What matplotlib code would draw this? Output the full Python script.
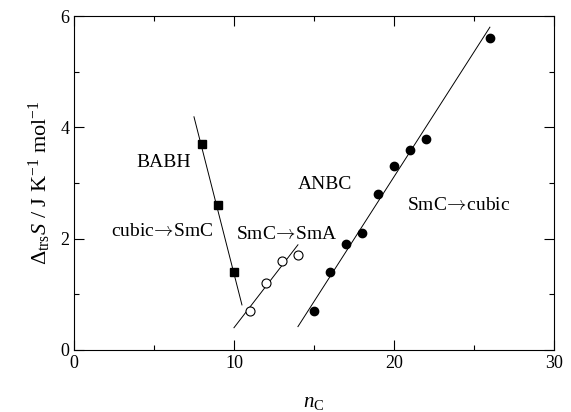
import matplotlib.pyplot as plt
from matplotlib.ticker import MultipleLocator

plt.rcParams['font.family'] = ['Liberation Serif', 'DejaVu Serif']
plt.rcParams['mathtext.fontset'] = 'custom'
plt.rcParams['mathtext.rm'] = 'Liberation Serif'
plt.rcParams['mathtext.it'] = 'Liberation Serif:italic'

# BABH (cubic -> SmC)
babh_n = [8, 9, 10]
babh_s = [3.7, 2.6, 1.4]
babh_fit_n = [7.5, 10.5]
babh_fit_s = [4.19, 0.81]

# SmC -> SmA
sma_n = [11, 12, 13, 14]
sma_s = [0.7, 1.2, 1.6, 1.7]
sma_fit_n = [10.0, 14.0]
sma_fit_s = [0.40, 1.89]

# ANBC (SmC -> cubic)
anbc_n = [15, 16, 17, 18, 19, 20, 21, 22, 26]
anbc_s = [0.7, 1.4, 1.9, 2.1, 2.8, 3.3, 3.6, 3.8, 5.6]
anbc_fit_n = [14.0, 26.0]
anbc_fit_s = [0.42, 5.8]

fig = plt.figure(figsize=(5.71, 4.12), dpi=100)
ax = fig.add_axes([0.1296, 0.1505, 0.8404, 0.8105])

ax.plot(babh_fit_n, babh_fit_s, color='black', lw=0.7)
ax.plot(sma_fit_n, sma_fit_s, color='black', lw=0.7)
ax.plot(anbc_fit_n, anbc_fit_s, color='black', lw=0.7)

ax.plot(babh_n, babh_s, 's', color='black', ms=6)
ax.plot(sma_n, sma_s, 'o', mfc='white', mec='black', mew=0.8, ms=6.5)
ax.plot(anbc_n, anbc_s, 'o', color='black', ms=6)

fs = 14
arrow = r'$\!\rightarrow\!$'
kw = dict(fontsize=fs, ha='center', va='center', math_fontfamily='cm')
ax.text(5.6, 3.36, 'BABH', fontsize=fs, ha='center', va='center')
ax.text(5.5, 2.13, 'cubic' + arrow + 'SmC', **kw)
ax.text(13.3, 2.08, 'SmC' + arrow + 'SmA', **kw)
ax.text(15.7, 2.97, 'ANBC', fontsize=fs, ha='center', va='center')
ax.text(24.06, 2.6, 'SmC' + arrow + 'cubic', **kw)

ax.set_xlim(0, 30)
ax.set_ylim(0, 6)
ax.xaxis.set_major_locator(MultipleLocator(10))
ax.xaxis.set_minor_locator(MultipleLocator(5))
ax.yaxis.set_major_locator(MultipleLocator(2))
ax.yaxis.set_minor_locator(MultipleLocator(1))
ax.tick_params(which='both', direction='in', top=True, right=True, labelsize=13, width=0.8)
ax.tick_params(which='major', length=7)
ax.tick_params(which='minor', length=3.6)
for sp in ax.spines.values():
    sp.set_linewidth(0.8)

ax.set_xlabel(r'$n_{\rm C}$', fontsize=15, labelpad=15)
ax.set_ylabel(r'$\Delta_{\rm trs}S$ / J K$^{-1}$ mol$^{-1}$', fontsize=16, labelpad=5)

fig.savefig('out.png', dpi=100)
